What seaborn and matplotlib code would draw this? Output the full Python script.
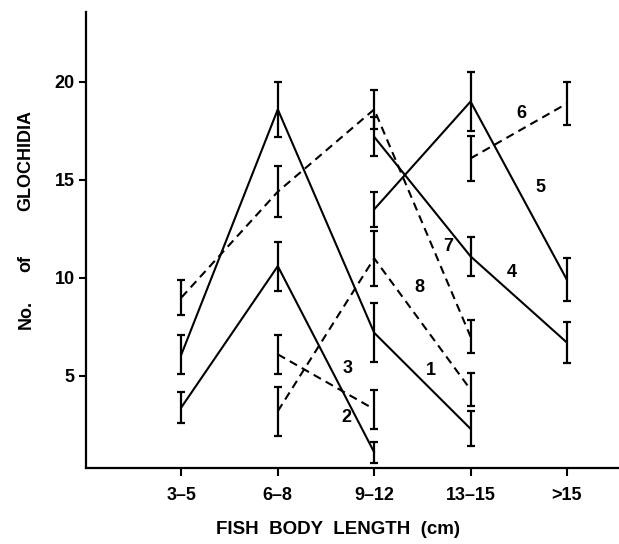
import numpy as np
import pandas as pd
import matplotlib
matplotlib.use("Agg")
import matplotlib.pyplot as plt
import seaborn as sns

# ---- data ----
categories = ["3–5", "6–8", "9–12", "13–15", ">15"]

s1 = [6.1, 18.6, 7.2, 2.3, np.nan]
e1 = [1.0, 1.4, 1.5, 0.9, np.nan]
s2 = [3.4, 10.6, 1.1, np.nan, np.nan]
e2 = [0.8, 1.25, 0.55, np.nan, np.nan]
s3 = [np.nan, 6.1, 3.3, np.nan, np.nan]
e3 = [np.nan, 1.0, 1.0, np.nan, np.nan]
s4 = [np.nan, np.nan, 17.2, 11.1, 6.7]
e4 = [np.nan, np.nan, 1.0, 1.0, 1.05]
s5 = [np.nan, np.nan, 13.5, 19.0, 9.9]
e5 = [np.nan, np.nan, 0.9, 1.5, 1.1]
s6 = [np.nan, np.nan, np.nan, 16.1, 18.9]
e6 = [np.nan, np.nan, np.nan, 1.15, 1.1]
s7 = [9.0, 14.4, 18.6, 7.0, np.nan]
e7 = [0.9, 1.3, 1.0, 0.85, np.nan]
s8 = [np.nan, 3.2, 11.0, 4.3, np.nan]
e8 = [np.nan, 1.25, 1.4, 0.85, np.nan]

series_names = ["1", "2", "3", "4", "5", "6", "7", "8"]
series_vals = [s1, s2, s3, s4, s5, s6, s7, s8]
series_errs = [e1, e2, e3, e4, e5, e6, e7, e8]
series_kind = ["solid", "solid", "dashed", "solid", "solid", "dashed", "dashed", "dashed"]

# label positions (category index, value)
label_x = [2.59, 1.71, 1.72, 3.43, 3.73, 3.53, 2.77, 2.47]
label_y = [5.3, 2.9, 5.4, 10.3, 14.6, 18.4, 11.6, 9.5]

ylabel_words = ["No.", "of", "GLOCHIDIA"]
ylabel_pos = [314, 264, 160]  # pixel centres from top

rows = []
for name, vals, errs, kind in zip(series_names, series_vals, series_errs, series_kind):
    for i, (v, e) in enumerate(zip(vals, errs)):
        if not np.isnan(v):
            rows.append(dict(series=name, x=i, y=v, err=e, kind=kind))
df = pd.DataFrame(rows)

sns.set_style("ticks")
plt.rcParams["font.family"] = ["Liberation Sans", "DejaVu Sans"]
plt.rcParams["font.weight"] = "bold"

fig = plt.figure(figsize=(6.19, 5.44), dpi=100)
ax = fig.add_axes([86 / 619, (544 - 468) / 544, (619 - 86) / 619, (468 - 12) / 544])

sns.lineplot(data=df, x="x", y="y", units="series", style="kind", estimator=None,
             color="black", dashes={"solid": "", "dashed": (4, 2.6)},
             legend=False, lw=1.5, ax=ax, sort=False)

ax.errorbar(df["x"], df["y"], yerr=df["err"], fmt="none", ecolor="black",
            elinewidth=1.6, capsize=3, capthick=1.6)

for name, lx, ly in zip(series_names, label_x, label_y):
    ax.text(lx, ly, name, fontsize=13, fontweight="bold", ha="center", va="center",
            color="black")

ax.set_xlim(-0.99, 4.54)
ax.set_ylim(0.3, 23.57)
ax.set_xticks(range(len(categories)))
ax.set_xticklabels(categories, fontsize=13, fontweight="bold")
ax.set_yticks([5, 10, 15, 20])
ax.set_yticklabels(["5", "10", "15", "20"], fontsize=13, fontweight="bold")
ax.tick_params(axis="x", length=6, width=1.5, pad=8, colors="black")
ax.tick_params(axis="y", length=5, width=1.5, pad=3, colors="black")
ax.set_xlabel("")
ax.set_ylabel("")
for side in ["top", "right"]:
    ax.spines[side].set_visible(False)
for side in ["left", "bottom"]:
    ax.spines[side].set_linewidth(1.6)
    ax.spines[side].set_color("black")

fig.text(338 / 619, 1 - 530 / 544, "FISH  BODY  LENGTH  (cm)", fontsize=13.5,
         fontweight="bold", ha="center", va="center", color="black")
for word, py in zip(ylabel_words, ylabel_pos):
    fig.text(26 / 619, 1 - py / 544, word, fontsize=13, color="black",
             fontweight="bold", ha="center", va="center", rotation=90)

fig.savefig("out.png", dpi=100, facecolor="white")
